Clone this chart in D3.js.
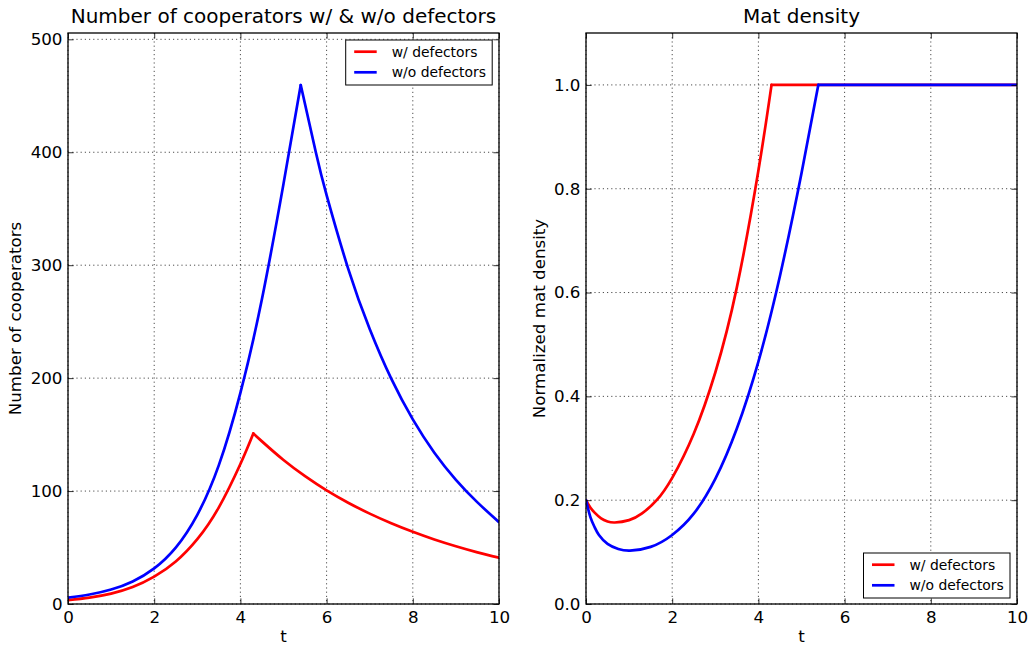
<!DOCTYPE html>
<html>
<head>
<meta charset="utf-8">
<script src="https://cdn.jsdelivr.net/npm/d3@7"></script>
<style>
  html, body { margin: 0; padding: 0; background: #fff; }
  svg { display: block; }
</style>
</head>
<body>
<div id="chart"></div>
<script>
// ---------------- DATA ----------------
const seriesNames = ["w/ defectors", "w/o defectors"];
const seriesColors = ["#ff0000", "#0000ff"];

// Left panel: number of cooperators
const tCoopWith = [0, 0.5, 1, 1.5, 2, 2.5, 3, 3.5, 4, 4.3, 4.5, 5, 5.5, 6, 6.5, 7, 7.5, 8, 8.5, 9, 9.5, 10];
const coopWith  = [3.5, 5.7, 9.2, 15, 24.2, 37.6, 57.4, 85.6, 124, 151, 144, 127.5, 113.2, 100.6, 89.7, 80, 71.5, 63.9, 57.1, 51.1, 45.7, 41];

const tCoopWithout = [0, 0.5, 1, 1.5, 2, 2.5, 3, 3.5, 4, 4.5, 5, 5.4, 5.75, 6, 6.5, 7, 7.5, 8, 8.5, 9, 9.5, 10];
const coopWithout  = [5.6, 8.4, 12.8, 20, 31.6, 50, 79, 123, 187, 270, 372, 459.5, 400, 362, 297, 243.5, 199.5, 163.5, 134, 110, 90, 72.5];

// Right panel: normalized mat density
const tMatWith = [0, 0.1, 0.2, 0.35, 0.5, 0.67, 1, 1.3, 1.64, 2, 2.5, 3, 3.5, 4, 4.305, 10];
const matWith  = [0.2, 0.186, 0.176, 0.165, 0.159, 0.157, 0.1616, 0.1745, 0.2, 0.243, 0.328, 0.446, 0.61, 0.835, 1.0, 1.0];

const tMatWithout = [0, 0.1, 0.2, 0.3, 0.5, 0.75, 1.02, 1.5, 2, 2.5, 3, 3.5, 4, 4.5, 5, 5.39, 10];
const matWithout  = [0.2, 0.168, 0.148, 0.133, 0.116, 0.106, 0.1027, 0.11, 0.133, 0.174, 0.241, 0.338, 0.467, 0.632, 0.83, 1.0, 1.0];

const xTicks = [0, 2, 4, 6, 8, 10];
const coopTicks = [0, 100, 200, 300, 400, 500];
const matTicks = [0.0, 0.2, 0.4, 0.6, 0.8, 1.0];

const titles = ["Number of cooperators w/ & w/o defectors", "Mat density"];
const yLabels = ["Number of cooperators", "Normalized mat density"];
const xLabel = "t";

// ---------------- DRAWING ----------------
const W = 1030, H = 648;
const FONT = "DejaVu Sans, Verdana, sans-serif";
const svg = d3.select("#chart").append("svg")
  .attr("width", W).attr("height", H)
  .style("background", "#fff");

function toPoints(ts, vs) { return ts.map((t, i) => ({ t, v: vs[i] })); }

function drawPanel(cfg) {
  const { left, right, top, bottom, yMax, yTicks, yFmt, series, title, ylab, legendPos, ylabX, id } = cfg;
  const x = d3.scaleLinear().domain([0, 10]).range([left, right]);
  const y = d3.scaleLinear().domain([0, yMax]).range([bottom, top]);

  const g = svg.append("g");

  svg.append("clipPath").attr("id", "clip" + id)
    .append("rect").attr("x", left).attr("y", top)
    .attr("width", right - left).attr("height", bottom - top);

  // grid
  const grid = g.append("g").attr("stroke", "#000").attr("stroke-width", 0.7)
    .attr("stroke-dasharray", "1.2,3").attr("fill", "none");
  xTicks.forEach(t => grid.append("line")
    .attr("x1", x(t)).attr("x2", x(t)).attr("y1", top).attr("y2", bottom));
  yTicks.forEach(v => grid.append("line")
    .attr("x1", left).attr("x2", right).attr("y1", y(v)).attr("y2", y(v)));

  // data lines (split at the turning point so the corner stays sharp)
  const lineGen = d3.line().x(d => x(d.t)).y(d => y(d.v)).curve(d3.curveNatural);
  const lg = g.append("g").attr("clip-path", `url(#clip${id})`);
  series.forEach((s, i) => {
    const pts = toPoints(s.t, s.v);
    const k = d3.maxIndex(s.v);
    const parts = [pts.slice(0, k + 1), pts.slice(k)].filter(p => p.length > 1);
    parts.forEach(p => lg.append("path")
      .attr("d", lineGen(p))
      .attr("fill", "none")
      .attr("stroke", seriesColors[i])
      .attr("stroke-width", 2.7)
      .attr("stroke-linejoin", "round")
      .attr("stroke-linecap", "round"));
  });

  // axes (ticks inward on all four sides)
  const tickLen = 5.6;
  const axB = g.append("g").attr("transform", `translate(0,${bottom})`)
    .call(d3.axisBottom(x).tickValues(xTicks).tickSize(-tickLen).tickPadding(7.5).tickFormat(d3.format("d")));
  const axT = g.append("g").attr("transform", `translate(0,${top})`)
    .call(d3.axisTop(x).tickValues(xTicks).tickSize(-tickLen).tickFormat(""));
  const axL = g.append("g").attr("transform", `translate(${left},0)`)
    .call(d3.axisLeft(y).tickValues(yTicks).tickSize(-tickLen).tickPadding(5.5).tickFormat(yFmt));
  const axR = g.append("g").attr("transform", `translate(${right},0)`)
    .call(d3.axisRight(y).tickValues(yTicks).tickSize(-tickLen).tickFormat(""));
  [axB, axT, axL, axR].forEach(a => {
    a.select(".domain").remove();
    a.selectAll(".tick line").attr("stroke", "#000").attr("stroke-width", 0.8);
    a.selectAll("text").attr("font-family", FONT).attr("font-size", 16.7).attr("fill", "#000");
  });

  // frame
  g.append("rect").attr("x", left).attr("y", top)
    .attr("width", right - left).attr("height", bottom - top)
    .attr("fill", "none").attr("stroke", "#000").attr("stroke-width", 1.3);

  // title
  g.append("text").attr("x", (left + right) / 2).attr("y", 22.7)
    .attr("text-anchor", "middle").attr("font-family", FONT).attr("font-size", 20)
    .attr("fill", "#000").text(title);

  // x label
  g.append("text").attr("x", (left + right) / 2).attr("y", 641.5)
    .attr("text-anchor", "middle").attr("font-family", FONT).attr("font-size", 16.7)
    .attr("fill", "#000").text(xLabel);

  // y label
  g.append("text")
    .attr("transform", `translate(${ylabX},${(top + bottom) / 2}) rotate(-90)`)
    .attr("text-anchor", "middle").attr("font-family", FONT).attr("font-size", 16.7)
    .attr("fill", "#000").text(ylab);

  // legend
  const lgd = g.append("g").attr("transform", `translate(${legendPos[0]},${legendPos[1]})`);
  lgd.append("rect").attr("x", 0).attr("y", 0).attr("width", 146.5).attr("height", 45)
    .attr("fill", "#fff").attr("stroke", "#000").attr("stroke-width", 1);
  seriesNames.forEach((name, i) => {
    const yy = 11.7 + i * 20.6;
    lgd.append("line").attr("x1", 8.5).attr("x2", 31).attr("y1", yy).attr("y2", yy)
      .attr("stroke", seriesColors[i]).attr("stroke-width", 2.7);
    lgd.append("text").attr("x", 46).attr("y", yy + 5)
      .attr("font-family", FONT).attr("font-size", 13.9).attr("fill", "#000").text(name);
  });
}

drawPanel({
  id: 0, left: 68, right: 499, top: 33, bottom: 604, yMax: 505.6,
  yTicks: coopTicks, yFmt: d3.format("d"),
  series: [{ t: tCoopWith, v: coopWith }, { t: tCoopWithout, v: coopWithout }],
  title: titles[0], ylab: yLabels[0], legendPos: [345.7, 40], ylabX: 20.5
});

drawPanel({
  id: 1, left: 586, right: 1017, top: 33, bottom: 604, yMax: 1.1,
  yTicks: matTicks, yFmt: d3.format(".1f"),
  series: [{ t: tMatWith, v: matWith }, { t: tMatWithout, v: matWithout }],
  title: titles[1], ylab: yLabels[1], legendPos: [863.5, 553], ylabX: 545
});
</script>
</body>
</html>
